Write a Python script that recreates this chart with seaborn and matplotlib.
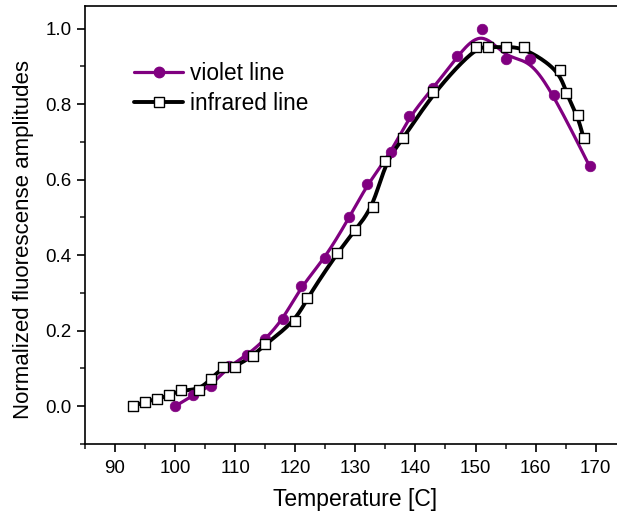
import numpy as np
import pandas as pd
import matplotlib
matplotlib.use("Agg")
import matplotlib.pyplot as plt
from matplotlib.lines import Line2D
from matplotlib.ticker import MultipleLocator, FormatStrFormatter
import seaborn as sns

# violet line data
violet_t = [100, 103, 106, 109, 112, 115, 118, 121, 125, 129, 132, 136, 139, 143, 147, 151, 155, 159, 163, 169]
violet_y = [0.0, 0.029, 0.054, 0.107, 0.135, 0.177, 0.231, 0.318, 0.393, 0.50, 0.588, 0.673, 0.769, 0.843,
            0.927, 1.0, 0.920, 0.920, 0.825, 0.635]

# infrared line data
ir_t = [93, 95, 97, 99, 101, 104, 106, 108, 110, 113, 115, 120, 122, 127, 130, 133, 135, 138, 143,
        150, 152, 155, 158, 164, 165, 167, 168]
ir_y = [0.0, 0.012, 0.019, 0.029, 0.043, 0.043, 0.073, 0.104, 0.104, 0.134, 0.164, 0.225, 0.287, 0.406,
        0.467, 0.528, 0.649, 0.709, 0.831, 0.951, 0.951, 0.951, 0.951, 0.890, 0.830, 0.770, 0.709]

VIOLET = "#800080"


def bspline(x, y, n=20):
    # uniform cubic B-spline with the data as control points (clamped ends)
    P = np.column_stack([x, y]).astype(float)
    P = np.vstack([P[0], P[0], P, P[-1], P[-1]])
    t = np.linspace(0, 1, n, endpoint=False)
    b0 = (1 - t) ** 3 / 6
    b1 = (3 * t ** 3 - 6 * t ** 2 + 4) / 6
    b2 = (-3 * t ** 3 + 3 * t ** 2 + 3 * t + 1) / 6
    b3 = t ** 3 / 6
    pts = []
    for i in range(len(P) - 3):
        seg = (np.outer(b0, P[i]) + np.outer(b1, P[i + 1]) +
               np.outer(b2, P[i + 2]) + np.outer(b3, P[i + 3]))
        pts.append(seg)
    pts.append(P[-1][None, :])
    pts = np.vstack(pts)
    return pts[:, 0], pts[:, 1]


sns.set_style("ticks")
plt.rcParams['font.family'] = ['Liberation Sans', 'DejaVu Sans']
plt.rcParams['text.color'] = 'black'
plt.rcParams['axes.labelcolor'] = 'black'

fig = plt.figure(figsize=(6.17, 5.18), dpi=100)
ax = fig.add_axes([0.1378, 0.1429, 0.8763, 0.8456])

vx, vy = bspline(violet_t, violet_y)
ix, iy = bspline(ir_t, ir_y)
sns.lineplot(x=vx, y=vy, sort=False, estimator=None, color=VIOLET, lw=2.3, ax=ax)
sns.lineplot(x=ix, y=iy, sort=False, estimator=None, color="black", lw=2.8, ax=ax)

df_v = pd.DataFrame({"t": violet_t, "y": violet_y})
df_i = pd.DataFrame({"t": ir_t, "y": ir_y})
sns.scatterplot(data=df_v, x="t", y="y", marker="o", s=58, color=VIOLET, edgecolor=VIOLET,
                linewidth=0.5, ax=ax, zorder=3)
sns.scatterplot(data=df_i, x="t", y="y", marker="s", s=50, color="white", edgecolor="black",
                linewidth=1.0, ax=ax, zorder=4)

ax.set_xlim(85, 175)
ax.set_ylim(-0.1, 1.06)
ax.xaxis.set_major_locator(MultipleLocator(10))
ax.xaxis.set_minor_locator(MultipleLocator(5))
ax.yaxis.set_major_locator(MultipleLocator(0.2))
ax.yaxis.set_minor_locator(MultipleLocator(0.1))
ax.set_xticks(range(90, 171, 10))
ax.set_xticklabels([str(v) for v in range(90, 171, 10)])
ax.yaxis.set_major_formatter(FormatStrFormatter('%.1f'))

for s in ax.spines.values():
    s.set_linewidth(1.2)
    s.set_color("black")
ax.tick_params(axis="both", which="major", direction="out", length=6, width=1.2,
               labelsize=13.5, colors="black")
ax.tick_params(axis="both", which="minor", direction="out", length=3.5, width=1.2)
ax.tick_params(axis="x", which="major", pad=5.5)
ax.tick_params(axis="y", which="major", pad=3.5)

ax.set_xlabel("Temperature [C]", fontsize=16.5, labelpad=8, color="black")
ax.set_ylabel("Normalized fluorescense amplitudes", fontsize=16, color="black")
ax.yaxis.set_label_coords(-0.095, 0.466)

handles = [
    Line2D([], [], color=VIOLET, lw=2.3, marker="o", markersize=7.5, markerfacecolor=VIOLET),
    Line2D([], [], color="black", lw=2.8, marker="s", markersize=7, markerfacecolor="white",
           markeredgecolor="black", markeredgewidth=1.0),
]
ax.legend(handles, ["violet line", "infrared line"], loc="upper left", bbox_to_anchor=(0.09, 0.872),
          frameon=False, fontsize=16.3, handlelength=2.2, handletextpad=0.3, labelspacing=0.3,
          borderpad=0, borderaxespad=0, labelcolor="black")

fig.savefig("out.png", dpi=100)
